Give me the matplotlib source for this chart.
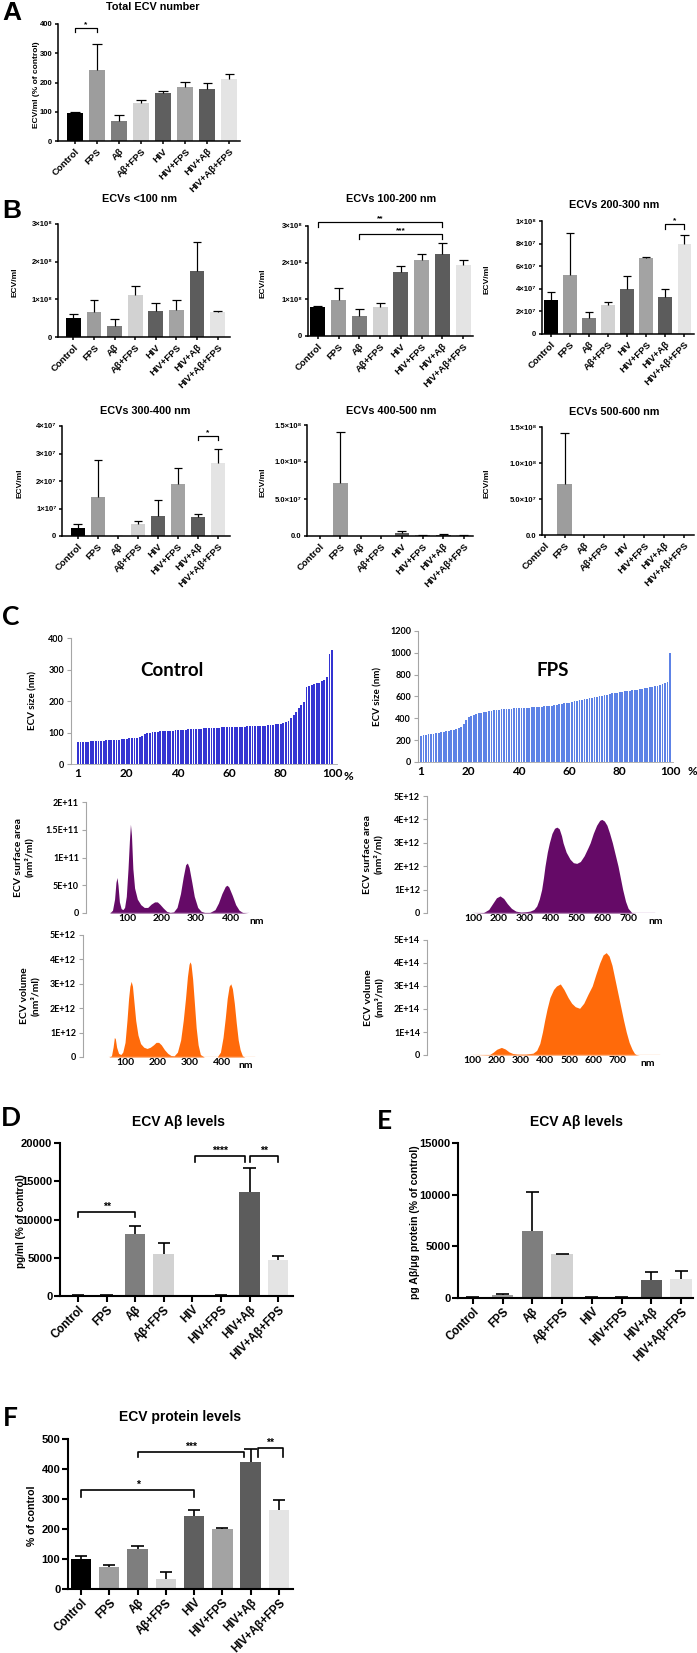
import numpy as np
import matplotlib
matplotlib.use("Agg")
import matplotlib.pyplot as plt

W, H = 697, 1653
GP = ["Liberation Sans", "DejaVu Sans"]   # GraphPad-style panels
XL = ["Lato", "DejaVu Sans"]              # Excel-style panels (C)

groups = ["Control", "FPS", "Aβ", "Aβ+FPS", "HIV", "HIV+FPS", "HIV+Aβ", "HIV+Aβ+FPS"]
bar_colors = ["#000000", "#9d9d9d", "#7e7e7e", "#d2d2d2", "#5f5f5f", "#a3a3a3", "#5c5c5c", "#e4e4e4"]

# ---- A: total ECV number (% of control) ----
total_mean = [95, 243, 70, 130, 163, 183, 178, 212]
total_err = [5, 90, 18, 10, 9, 20, 19, 16]
total_sig = [(0, 1, 386, 373, "*")]

# ---- B: ECVs per size bin (ECV/ml) ----
lt100_mean = np.array([0.50, 0.66, 0.28, 1.11, 0.70, 0.73, 1.74, 0.66]) * 1e8
lt100_err = np.array([0.11, 0.31, 0.19, 0.24, 0.21, 0.26, 0.78, 0.02]) * 1e8
b100_mean = np.array([0.79, 0.99, 0.54, 0.79, 1.75, 2.06, 2.23, 1.95]) * 1e8
b100_err = np.array([0.04, 0.33, 0.20, 0.12, 0.17, 0.17, 0.30, 0.13]) * 1e8
b100_sig = [(0, 6, 3.11e8, 2.97e8, "**"), (2, 6, 2.77e8, 2.65e8, "***")]
b200_mean = np.array([3.0, 5.2, 1.4, 2.6, 4.0, 6.7, 3.3, 7.95]) * 1e7
b200_err = np.array([0.7, 3.7, 0.55, 0.2, 1.1, 0.15, 0.7, 0.85]) * 1e7
b200_sig = [(6, 7, 9.7e7, 9.3e7, "*")]
b300_mean = np.array([3.0, 14.2, 0.15, 4.2, 7.3, 18.8, 7.0, 26.4]) * 1e6
b300_err = np.array([1.5, 13.4, 0.0, 1.4, 5.7, 5.8, 1.1, 5.2]) * 1e6
b300_sig = [(6, 7, 3.64e7, 3.49e7, "*")]
b400_mean = np.array([0, 71, 0, 0, 3.6, 1.0, 1.5, 1.0]) * 1e6
b400_err = np.array([0, 70, 0, 0, 2.7, 0.0, 1.0, 0.0]) * 1e6
b500_mean = np.array([0, 71.5, 0, 0, 0, 0, 0, 0]) * 1e6
b500_err = np.array([0, 70.5, 0, 0, 0, 0, 0, 0]) * 1e6

tl_1e8 = ["0", "1×10⁸", "2×10⁸", "3×10⁸"]
tl_200 = ["0", "2×10⁷", "4×10⁷", "6×10⁷", "8×10⁷", "1×10⁸"]
tl_300 = ["0", "1×10⁷", "2×10⁷", "3×10⁷", "4×10⁷"]
tl_15 = ["0.0", "5.0×10⁷", "1.0×10⁸", "1.5×10⁸"]

# ---- C: sorted sizes (nm) per percentile ----
ctrl_size = [69, 70, 70, 71, 71, 72, 72, 73, 73, 74,
             74, 75, 75, 76, 76, 77, 77, 78, 79, 80,
             81, 82, 83, 84, 86, 90, 94, 97, 99, 101,
             102, 103, 104, 104, 105, 105, 106, 106, 107, 108,
             108, 109, 109, 110, 110, 111, 111, 112, 112, 113,
             113, 114, 114, 115, 115, 115, 116, 116, 117, 117,
             118, 118, 118, 119, 119, 119, 120, 120, 120, 121,
             121, 121, 122, 122, 123, 124, 125, 126, 127, 128,
             129, 132, 138, 145, 155, 165, 177, 188, 198, 243,
             247, 250, 253, 256, 258, 262, 268, 277, 350, 363]
fps_size = [238, 243, 248, 252, 256, 260, 264, 268, 272, 276,
            280, 284, 289, 295, 302, 310, 322, 345, 385, 410,
            425, 433, 440, 446, 452, 457, 462, 466, 470, 474,
            477, 479, 481, 483, 485, 487, 489, 491, 493, 495,
            496, 497, 498, 499, 500, 502, 504, 506, 508, 510,
            512, 514, 517, 520, 524, 528, 532, 536, 540, 545,
            550, 555, 560, 565, 570, 575, 580, 585, 590, 595,
            599, 603, 608, 613, 618, 623, 628, 632, 636, 640,
            643, 646, 649, 652, 655, 658, 662, 666, 670, 675,
            680, 685, 690, 695, 700, 705, 712, 720, 735, 1000]
pct_ticks = [1, 20, 40, 60, 80, 100]

# surface area / volume distributions (nm, value in the unit noted)
ctrl_surf_nm = [50, 58, 64, 68, 71, 74, 78, 83, 88, 93, 98, 103, 107, 110, 113, 117, 122, 130, 140,
                150, 160, 170, 180, 188, 195, 205, 215, 225, 235, 245, 255, 263, 270, 275, 280, 288,
                295, 305, 315, 325, 340, 355, 365, 375, 385, 390, 395, 405, 415, 425, 435, 450]
ctrl_surf_v = [0, 0.5, 2.5, 5.5, 6.4, 5.0, 2.0, 0.8, 0.6, 1.0, 3.0, 8.0, 13.0, 16.0, 14.0, 8.0, 4.5,
               2.5, 1.5, 1.0, 1.0, 1.6, 2.0, 2.0, 1.6, 0.9, 0.3, 0.1, 0.2, 1.0, 3.5, 6.5, 8.7, 9.0,
               8.2, 5.5, 3.0, 1.0, 0.3, 0.1, 0.1, 0.6, 1.8, 3.5, 4.8, 5.0, 4.7, 3.2, 1.5, 0.5, 0.1, 0]  # x1E10
ctrl_vol_nm = [50, 58, 63, 67, 70, 74, 80, 87, 93, 100, 106, 111, 115, 119, 123, 128, 133, 140, 148,
               158, 168, 178, 188, 196, 204, 212, 222, 232, 242, 252, 262, 272, 280, 287, 293, 298,
               301, 304, 309, 314, 320, 326, 333, 345, 385, 395, 403, 410, 416, 422, 427, 432, 438,
               444, 450, 456, 463, 470, 500]
ctrl_vol_v = [0, 0.05, 0.4, 0.8, 0.75, 0.4, 0.15, 0.1, 0.2, 0.6, 1.5, 2.4, 2.9, 3.1, 2.9, 2.2, 1.5,
              0.9, 0.55, 0.4, 0.35, 0.4, 0.5, 0.6, 0.6, 0.5, 0.3, 0.15, 0.06, 0.05, 0.2, 0.7, 1.5,
              2.4, 3.3, 3.8, 3.9, 3.8, 3.2, 2.3, 1.2, 0.5, 0.1, 0, 0, 0.2, 0.8, 1.6, 2.4, 2.9, 3.0,
              2.8, 2.2, 1.4, 0.7, 0.3, 0.05, 0, 0]  # x1E12
fps_surf_nm = [100, 140, 160, 175, 190, 204, 218, 232, 248, 265, 285, 300, 320, 335, 346, 356, 365,
               372, 378, 387, 395, 405, 415, 424, 433, 442, 448, 460, 475, 488, 501, 515, 530, 545,
               553, 565, 578, 590, 598, 608, 618, 628, 639, 650, 661, 670, 679, 690, 700, 714, 730, 800]
fps_surf_v = [0, 0.02, 0.15, 0.4, 0.65, 0.73, 0.62, 0.4, 0.2, 0.08, 0.04, 0.05, 0.08, 0.15, 0.3, 0.6,
              1.0, 1.5, 2.0, 2.6, 3.0, 3.4, 3.62, 3.67, 3.6, 3.3, 3.0, 2.6, 2.3, 2.15, 2.12, 2.2,
              2.45, 2.8, 3.0, 3.4, 3.75, 3.96, 4.0, 3.93, 3.75, 3.42, 3.0, 2.5, 2.0, 1.5, 1.0, 0.5,
              0.2, 0.02, 0, 0]  # x1E12
fps_vol_nm = [100, 170, 185, 200, 219, 235, 250, 265, 285, 320, 350, 365, 378, 389, 398, 408, 420,
              435, 447, 463, 478, 495, 510, 525, 543, 560, 578, 595, 610, 626, 640, 653, 665, 677,
              686, 695, 705, 715, 725, 736, 748, 760, 770, 777, 790, 870]
fps_vol_v = [0, 0.02, 0.12, 0.25, 0.33, 0.26, 0.14, 0.07, 0.04, 0.04, 0.08, 0.2, 0.5, 1.0, 1.5, 2.0,
             2.5, 2.85, 3.0, 3.09, 2.85, 2.5, 2.25, 2.1, 2.03, 2.25, 2.65, 3.0, 3.5, 4.0, 4.35, 4.45,
             4.3, 3.9, 3.45, 3.0, 2.5, 2.0, 1.5, 1.0, 0.55, 0.25, 0.07, 0.02, 0, 0]  # x1E14

# ---- D/E/F ----
abpg_mean = [100, 150, 8050, 5430, 60, 80, 13650, 4680]
abpg_err = [0, 0, 1140, 1530, 0, 0, 3070, 570]
abpg_sig = [(0, 2, 11030, 10370, "**"), (4.1, 5.85, 18340, 17460, "****"), (6.0, 7.0, 18340, 17460, "**")]
abprot_mean = [100, 250, 6480, 4210, 50, 50, 1780, 1880]
abprot_err = [0, 100, 3760, 30, 0, 0, 710, 740]
prot_mean = [100, 75, 133, 33, 244, 200, 422, 262]
prot_err = [11, 5, 9, 24, 19, 5, 45, 35]
prot_sig = [(0, 4, 330, 308, "*"), (2, 5.75, 458, 441, "***"), (6.25, 7.15, 469, 441, "**")]

fig = plt.figure(figsize=(W / 100, H / 100), dpi=100)


def add_ax(l, t, r, b):
    return fig.add_axes([l / W, 1 - b / H, (r - l) / W, (b - t) / H])


def px_text(x, y, s, **kw):
    fig.text(x / W, 1 - y / H, s, **kw)


def bar_panel(box, xlim, means, errs, ylim, yticks, ytl, title, tpos, ylab, ylab_x,
              brackets=(), big=False, ylab_fs=None):
    if big:
        fs_t, fs_c, fs_title, fs_y, fs_s, lw, tl = 8, 8.3, 10, 7.6, 7.5, 1.5, 4
    else:
        fs_t, fs_c, fs_title, fs_y, fs_s, lw, tl = 5.5, 6.8, 7.8, 6, 6, 1.1, 2.5
    if ylab_fs:
        fs_y = ylab_fs
    ax = add_ax(*box)
    x = np.arange(len(groups))
    w = 0.72
    ax.bar(x, means, width=w, color=bar_colors, linewidth=0, zorder=2)
    for xi, m, e in zip(x, means, errs):
        if m > 0:
            ax.vlines(xi, m, m + e, color="black", lw=lw * 0.8, zorder=3)
            ax.hlines(m + e, xi - w * 0.3, xi + w * 0.3, color="black", lw=lw * 0.8, zorder=3)
    ax.set_xlim(*xlim)
    ax.set_ylim(*ylim)
    for s in ("top", "right"):
        ax.spines[s].set_visible(False)
    for s in ("left", "bottom"):
        ax.spines[s].set_linewidth(lw)
    ax.set_yticks(yticks)
    ax.set_yticklabels(ytl, fontsize=fs_t, fontweight="bold", family=GP)
    ax.set_xticks(x)
    ax.set_xticklabels(groups, rotation=45, ha="right", rotation_mode="anchor",
                       fontsize=fs_c, fontweight="bold", family=GP)
    ax.tick_params(width=lw, length=tl, pad=1.5)
    for i, j, yl, yt, lab in brackets:
        ax.plot([i, i, j, j], [yt, yl, yl, yt], color="black", lw=lw * 0.8, clip_on=False)
        ax.text((i + j) / 2, yl, lab, ha="center", va="bottom", fontsize=fs_s,
                fontweight="bold", family=GP)
    px_text(tpos[0], tpos[1], title, ha="center", va="center", fontsize=fs_title,
            fontweight="bold", family=GP)
    px_text(ylab_x, (box[1] + box[3]) / 2 + 2, ylab, rotation=90, ha="center", va="center",
            fontsize=fs_y, fontweight="bold", family=GP)
    return ax


GRAY = "#a6a6a6"


def excel_axes(ax):
    for s in ("top", "right"):
        ax.spines[s].set_visible(False)
    ax.spines["left"].set_color(GRAY)
    ax.spines["left"].set_linewidth(0.8)
    ax.tick_params(axis="y", color=GRAY, length=3, width=0.8, pad=2)
    ax.tick_params(axis="x", length=0)


def size_panel(box, xlim, vals, color, yticks, label, lpos, ylab_x, pct_pos):
    ax = add_ax(*box)
    idx = np.arange(1, len(vals) + 1)
    ax.bar(idx, vals, width=0.72, color=color, linewidth=0)
    ax.set_xlim(*xlim)
    ax.set_ylim(0, yticks[-1])
    excel_axes(ax)
    ax.spines["bottom"].set_color(GRAY)
    ax.spines["bottom"].set_linewidth(0.6)
    ax.set_yticks(yticks)
    ax.set_yticklabels([str(v) for v in yticks], fontsize=6.5, fontweight="bold", family=XL)
    ax.set_xticks(pct_ticks)
    ax.set_xticklabels([str(v) for v in pct_ticks], fontsize=8.5, fontweight="bold", family=XL)
    ax.tick_params(axis="x", pad=3)
    px_text(pct_pos[0], pct_pos[1], "%", ha="center", va="center", fontsize=8.5,
            fontweight="bold", family=XL)
    px_text(lpos[0], lpos[1], label, ha="center", va="center", fontsize=13.5,
            fontweight="bold", family=XL)
    px_text(ylab_x, (box[1] + box[3]) / 2, "ECV size (nm)", rotation=90, ha="center",
            va="center", fontsize=7, fontweight="bold", family=XL)


def dens_panel(box, xlim, xs, ys, scale, color, base, yticks, ytl, xticks, ylab, ylab_x, nm_x):
    ax = add_ax(*box)
    yv = np.array(ys) * scale
    ax.fill_between(xs, 0, yv, color=color, linewidth=0)
    ax.plot([xs[0], xs[-1]], [0, 0], color=base, lw=1.0)
    ax.set_xlim(*xlim)
    ax.set_ylim(0, yticks[-1])
    excel_axes(ax)
    ax.spines["bottom"].set_visible(False)
    ax.set_yticks(yticks)
    ax.set_yticklabels(ytl, fontsize=6.5, fontweight="bold", family=XL)
    ax.set_xticks(xticks)
    ax.set_xticklabels([str(v) for v in xticks], fontsize=7.5, fontweight="bold", family=XL)
    ax.tick_params(axis="x", pad=1)
    px_text(nm_x, box[3] + 8, "nm", ha="center", va="center", fontsize=7.5,
            fontweight="bold", family=XL)
    px_text(ylab_x, (box[1] + box[3]) / 2, ylab, rotation=90, ha="center", va="center",
            fontsize=7.5, fontweight="bold", family=XL, linespacing=1.3)


# ---- A ----
bar_panel((58, 24, 240, 141), (-0.76, 7.48), total_mean, total_err, (0, 400),
          [0, 100, 200, 300, 400], ["0", "100", "200", "300", "400"],
          "Total ECV number", (153, 7), "ECV/ml (% of control)", 37, total_sig)

# ---- B ----
bar_panel((58, 224, 230, 337), (-0.75, 7.6), lt100_mean, lt100_err, (0, 3e8),
          [0, 1e8, 2e8, 3e8], tl_1e8, "ECVs <100 nm", (140, 199), "ECV/ml", 15)
bar_panel((308, 226, 473, 336), (-0.48, 7.48), b100_mean, b100_err, (0, 3e8),
          [0, 1e8, 2e8, 3e8], tl_1e8, "ECVs 100-200 nm", (391, 199), "ECV/ml", 263, b100_sig)
bar_panel((542, 221, 694, 334), (-0.46, 7.5), b200_mean, b200_err, (0, 1e8),
          [0, 2e7, 4e7, 6e7, 8e7, 1e8], tl_200, "ECVs 200-300 nm", (614, 205), "ECV/ml", 487, b200_sig)
bar_panel((62, 426, 230, 536), (-0.79, 7.6), b300_mean, b300_err, (0, 4e7),
          [0, 1e7, 2e7, 3e7, 4e7], tl_300, "ECVs 300-400 nm", (145, 411), "ECV/ml", 20, b300_sig)
bar_panel((307, 425, 473, 536), (-0.61, 7.45), b400_mean, b400_err, (0, 1.5e8),
          [0, 5e7, 1e8, 1.5e8], tl_15, "ECVs 400-500 nm", (391, 411), "ECV/ml", 263)
bar_panel((542, 427, 694, 535), (-0.13, 7.5), b500_mean, b500_err, (0, 1.5e8),
          [0, 5e7, 1e8, 1.5e8], tl_15, "ECVs 500-600 nm", (614, 412), "ECV/ml", 487)

# ---- C ----
size_panel((71, 638, 337, 764), (-1.73, 101.9), ctrl_size, "#3434d2",
           [0, 100, 200, 300, 400], "Control", (172, 670), 33, (348, 777))
size_panel((418, 631, 673, 762), (-0.19, 101.2), fps_size, "#5d82e6",
           [0, 200, 400, 600, 800, 1000, 1200], "FPS", (553, 670), 378, (692, 772))

dens_panel((86, 802, 250, 913), (-18.8, 456.5), ctrl_surf_nm, ctrl_surf_v, 1e10,
           "#650a67", "#c9a3cc", [0, 5e10, 1e11, 1.5e11, 2e11],
           ["0", "5E+10", "1E+11", "1.5E+11", "2E+11"], [100, 200, 300, 400],
           "ECV surface area\n(nm²/ml)", 24, 257)
dens_panel((83, 935, 256, 1057), (-30, 505), ctrl_vol_nm, ctrl_vol_v, 1e12,
           "#ff6a0a", "#ffc9a0", [0, 1e12, 2e12, 3e12, 4e12, 5e12],
           ["0", "1E+12", "2E+12", "3E+12", "4E+12", "5E+12"], [100, 200, 300, 400],
           "ECV volume\n(nm³/ml)", 30, 246)
dens_panel((427, 796, 656, 913), (-79, 808), fps_surf_nm, fps_surf_v, 1e12,
           "#650a67", "#c9a3cc", [0, 1e12, 2e12, 3e12, 4e12, 5e12],
           ["0", "1E+12", "2E+12", "3E+12", "4E+12", "5E+12"],
           [100, 200, 300, 400, 500, 600, 700], "ECV surface area\n(nm²/ml)", 373, 656)
dens_panel((427, 940, 662, 1055), (-89, 884), fps_vol_nm, fps_vol_v, 1e14,
           "#ff6a0a", "#ffc9a0", [0, 1e14, 2e14, 3e14, 4e14, 5e14],
           ["0", "1E+14", "2E+14", "3E+14", "4E+14", "5E+14"],
           [100, 200, 300, 400, 500, 600, 700], "ECV volume\n(nm³/ml)", 374, 648)

# ---- D / E / F ----
bar_panel((60, 1143, 293, 1296), (-0.63, 7.52), abpg_mean, abpg_err, (0, 20000),
          [0, 5000, 10000, 15000, 20000], ["0", "5000", "10000", "15000", "20000"],
          "ECV Aβ levels", (178, 1122), "pg/ml (% of control)", 21, abpg_sig, big=True,
          ylab_fs=7.2)
bar_panel((458, 1143, 693, 1298), (-0.5, 7.4), abprot_mean, abprot_err, (0, 15000),
          [0, 5000, 10000, 15000], ["0", "5000", "10000", "15000"],
          "ECV Aβ levels", (577, 1122), "pg Aβ/μg protein (% of control)", 415, big=True)
bar_panel((68, 1439, 293, 1589), (-0.46, 7.5), prot_mean, prot_err, (0, 500),
          [0, 100, 200, 300, 400, 500], ["0", "100", "200", "300", "400", "500"],
          "ECV protein levels", (180, 1417), "% of control", 32, prot_sig, big=True)

# panel letters
for lab, x, y, fam in [("A", 12, 13, GP), ("B", 12, 211, GP), ("C", 11, 617, XL),
                       ("D", 11, 1118, XL), ("E", 384, 1121, XL), ("F", 10, 1418, XL)]:
    px_text(x, y, lab, ha="center", va="center", fontsize=19, fontweight="bold", family=fam)

fig.savefig("out.png", dpi=100)
